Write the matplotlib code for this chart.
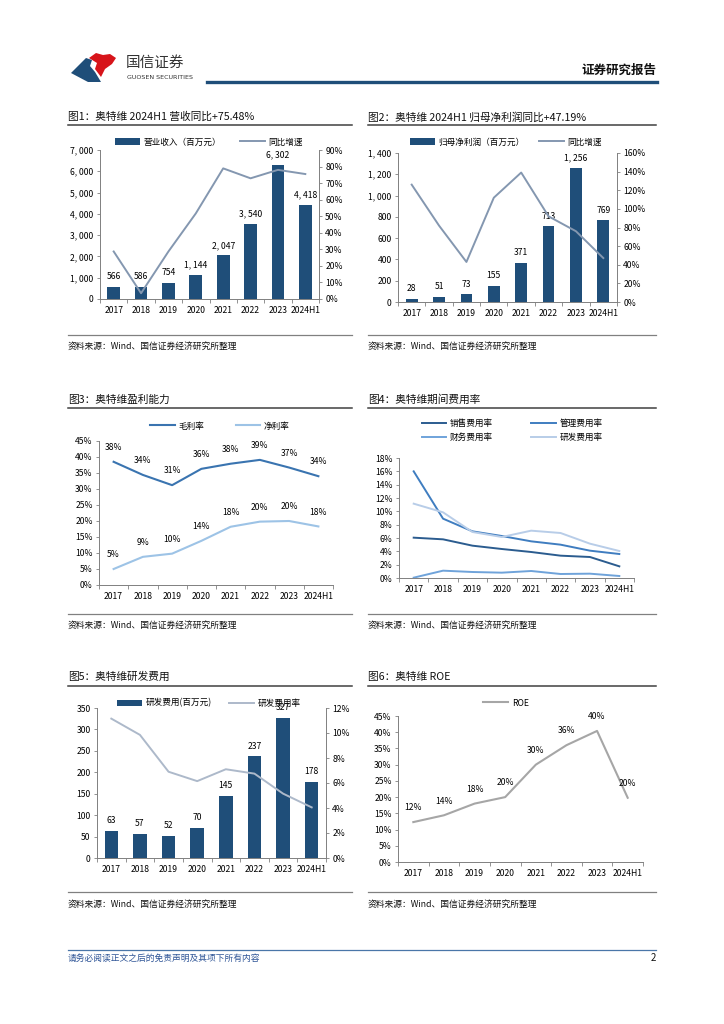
import numpy as np
import matplotlib
matplotlib.use("Agg")
import matplotlib.pyplot as plt
from matplotlib.lines import Line2D
from matplotlib.patches import Polygon

plt.rcParams['font.family'] = ['Noto Sans CJK SC', 'DejaVu Sans']
plt.rcParams['axes.unicode_minus'] = False

# ---- data ----
years = ['2017', '2018', '2019', '2020', '2021', '2022', '2023', '2024H1']

revenue = [566, 586, 754, 1144, 2047, 3540, 6302, 4418]
revenue_yoy = [28.7, 3.5, 28.7, 51.7, 78.9, 72.9, 78.0, 75.48]

net_profit = [28, 51, 73, 155, 371, 713, 1256, 769]
profit_yoy = [126.0, 82.0, 43.0, 112.0, 139.0, 92.0, 76.0, 47.19]

gross_margin = [38.5, 34.4, 31.2, 36.3, 37.9, 39.1, 36.7, 34.0]
net_margin = [5.0, 8.8, 9.8, 13.8, 18.2, 19.8, 20.0, 18.3]
gross_labels = ['38%', '34%', '31%', '36%', '38%', '39%', '37%', '34%']
net_labels = ['5%', '9%', '10%', '14%', '18%', '20%', '20%', '18%']

sell_rate = [6.05, 5.8, 4.85, 4.35, 3.9, 3.35, 3.15, 1.75]
admin_rate = [16.0, 8.9, 7.0, 6.3, 5.5, 5.0, 4.1, 3.6]
fin_rate = [0.05, 1.1, 0.9, 0.8, 1.05, 0.6, 0.65, 0.3]
rd_rate = [11.15, 9.85, 6.9, 6.15, 7.1, 6.75, 5.15, 4.05]

rd_expense = [63, 57, 52, 70, 145, 237, 327, 178]

roe = [12.3, 14.4, 18.0, 20.0, 30.0, 36.0, 40.4, 19.8]
roe_labels = ['12%', '14%', '18%', '20%', '30%', '36%', '40%', '20%']

# ---- page ----
W, H = 724, 1024
fig = plt.figure(figsize=(W / 100, H / 100), dpi=100)
fig.patch.set_facecolor('white')

BAR = '#1F4E79'
AXC = '#808080'
FS = 6.2
x = np.arange(len(years))


def fx(px):
    return px / W


def fy(py):
    return 1 - py / H


def ax_px(l, t, r, b):
    return fig.add_axes([l / W, 1 - b / H, (r - l) / W, (b - t) / H])


def hline(x1, x2, y, color, lw):
    fig.add_artist(Line2D([fx(x1), fx(x2)], [fy(y), fy(y)], color=color, lw=lw))


def thousands(v):
    return f"{v:,.0f}".replace(",", ", ")


def style(ax, ymax, step, fmt):
    ax.set_xlim(-0.5, len(years) - 0.5)
    ax.set_ylim(0, ymax)
    ticks = np.arange(0, ymax + step / 2, step)
    ax.set_yticks(ticks)
    ax.set_yticklabels([fmt(t) for t in ticks])
    ax.set_xticks(x)
    ax.set_xticklabels(years)
    ax.set_xticks(np.arange(-0.5, len(years)), minor=True)
    ax.tick_params(axis='x', which='major', length=0, labelsize=FS, pad=5)
    ax.tick_params(axis='x', which='minor', length=3, width=0.6, color=AXC, direction='out')
    ax.tick_params(axis='y', length=2.5, width=0.6, color=AXC, labelsize=FS, pad=2)
    for s in ['top', 'right']:
        ax.spines[s].set_visible(False)
    for s in ['left', 'bottom']:
        ax.spines[s].set_color(AXC)
        ax.spines[s].set_linewidth(0.7)
    ax.patch.set_alpha(0)


def style_right(ax, ymax, step, fmt):
    ax.set_ylim(0, ymax)
    ticks = np.arange(0, ymax + step / 2, step)
    ax.set_yticks(ticks)
    ax.set_yticklabels([fmt(t) for t in ticks])
    ax.tick_params(axis='y', length=2.5, width=0.6, color=AXC, labelsize=FS, pad=2)
    for s in ['top', 'left', 'bottom']:
        ax.spines[s].set_visible(False)
    ax.spines['right'].set_color(AXC)
    ax.spines['right'].set_linewidth(0.7)


def pct(t):
    return f"{t:.0f}%"


def legend(ax, handles, labels, cx, cy, ncol, colsp, hl=2.9):
    ax.legend(handles, labels, loc='center', bbox_to_anchor=(fx(cx), fy(cy)),
              bbox_transform=fig.transFigure, ncol=ncol, frameon=False,
              fontsize=FS, handlelength=hl, handletextpad=0.4,
              columnspacing=colsp, labelspacing=0.5, borderpad=0)


# header
blue_pts = [(71, 73), (86, 58), (92, 60), (90, 66), (95, 72), (101, 82), (88, 82)]
red_pts = [(89, 58), (96, 53), (103, 55), (110, 54), (116, 58), (112, 64),
           (105, 69), (101, 77), (95, 69), (97, 63)]
for pts, col in ((blue_pts, '#1F4E79'), (red_pts, '#D7141A')):
    fig.add_artist(Polygon([(fx(a), fy(b)) for a, b in pts], closed=True,
                           facecolor=col, edgecolor='none', transform=fig.transFigure))
fig.text(fx(126), fy(63), '国信证券', fontsize=10.5, color='#333333', va='center', ha='left')
fig.text(fx(127), fy(77.5), 'GUOSEN SECURITIES', fontsize=4.6, color='#333333',
         va='center', ha='left', family=['DejaVu Sans'])
fig.text(fx(656), fy(70), '证券研究报告', fontsize=9, fontweight='bold', color='#111111',
         va='center', ha='right')
hline(207, 657, 82, '#1F4E79', 2.4)

# panel titles, separators, sources
titles = [
    (68, 117, '图1：奥特维 2024H1 营收同比+75.48%'),
    (368, 117, '图2：奥特维 2024H1 归母净利润同比+47.19%'),
    (68, 400, '图3：奥特维盈利能力'),
    (368, 400, '图4：奥特维期间费用率'),
    (68, 677, '图5：奥特维研发费用'),
    (368, 677, '图6：奥特维 ROE'),
]
for tx, ty, s in titles:
    fig.text(fx(tx), fy(ty), s, fontsize=7.7, color='#111111', va='center', ha='left')
for ly in (125, 408, 686):
    hline(68, 352, ly, '#404040', 1.1)
    hline(368, 656, ly, '#404040', 1.1)
for ly, ty in ((335, 346), (614, 625), (892, 904)):
    hline(68, 352, ly, AXC, 0.9)
    hline(368, 656, ly, AXC, 0.9)
    fig.text(fx(68), fy(ty), '资料来源：Wind、国信证券经济研究所整理', fontsize=6.3,
             color='#111111', va='center', ha='left')
    fig.text(fx(368), fy(ty), '资料来源：Wind、国信证券经济研究所整理', fontsize=6.3,
             color='#111111', va='center', ha='left')

# footer
hline(68, 656, 950, '#4A76A8', 0.9)
fig.text(fx(68), fy(958), '请务必阅读正文之后的免责声明及其项下所有内容', fontsize=6.3,
         color='#2F5597', style='italic', va='center', ha='left')
fig.text(fx(656), fy(958), '2', fontsize=7, color='#111111', va='center', ha='right')

# ---- chart 1 ----
ax1 = ax_px(100, 150, 319, 299)
style(ax1, 7000, 1000, thousands)
b1 = ax1.bar(x, revenue, width=0.47, color=BAR, zorder=2)
for xi, v in zip(x, revenue):
    ax1.annotate(thousands(v), (xi, v), xytext=(0, 4), textcoords='offset points',
                 ha='center', va='bottom', fontsize=FS)
ax1r = ax1.twinx()
style_right(ax1r, 90, 10, pct)
l1, = ax1r.plot(x, revenue_yoy, color='#8497B0', lw=1.4)
legend(ax1r, [b1, l1], ['营业收入（百万元）', '同比增速'], 209, 142, 2, 2.2)

# ---- chart 2 ----
ax2 = ax_px(398, 153, 617, 302)
style(ax2, 1400, 200, thousands)
b2 = ax2.bar(x, net_profit, width=0.43, color=BAR, zorder=2)
for xi, v in zip(x, net_profit):
    ax2.annotate(thousands(v), (xi, v), xytext=(0, 4), textcoords='offset points',
                 ha='center', va='bottom', fontsize=FS)
ax2r = ax2.twinx()
style_right(ax2r, 160, 20, pct)
l2, = ax2r.plot(x, profit_yoy, color='#8497B0', lw=1.4)
legend(ax2r, [b2, l2], ['归母净利润（百万元）', '同比增速'], 506, 142, 2, 1.6)

# ---- chart 3 ----
ax3 = ax_px(99, 441, 333, 585)
style(ax3, 45, 5, pct)
g3, = ax3.plot(x, gross_margin, color='#3A74B0', lw=1.5)
n3, = ax3.plot(x, net_margin, color='#9DC3E6', lw=1.5)
for xi, v, s in zip(x, gross_margin, gross_labels):
    ax3.annotate(s, (xi, v), xytext=(0, 7), textcoords='offset points',
                 ha='center', va='bottom', fontsize=FS)
for xi, v, s in zip(x, net_margin, net_labels):
    ax3.annotate(s, (xi, v), xytext=(0, 7), textcoords='offset points',
                 ha='center', va='bottom', fontsize=FS)
legend(ax3, [g3, n3], ['毛利率', '净利率'], 220, 426, 2, 3.6)

# ---- chart 4 ----
ax4 = ax_px(399, 458, 634, 578)
style(ax4, 18, 2, pct)
s4, = ax4.plot(x, sell_rate, color='#2B5C8F', lw=1.4)
a4, = ax4.plot(x, admin_rate, color='#3F7DC0', lw=1.4)
f4, = ax4.plot(x, fin_rate, color='#6FA3DA', lw=1.4)
r4, = ax4.plot(x, rd_rate, color='#B8CDE8', lw=1.4)
legend(ax4, [s4, f4, a4, r4], ['销售费用率', '财务费用率', '管理费用率', '研发费用率'],
       512, 430.5, 2, 4.4)

# ---- chart 5 ----
ax5 = ax_px(97, 708, 326, 858)
style(ax5, 350, 50, lambda t: f"{t:.0f}")
b5 = ax5.bar(x, rd_expense, width=0.47, color=BAR, zorder=2)
for xi, v in zip(x, rd_expense):
    ax5.annotate(f"{v}", (xi, v), xytext=(0, 4), textcoords='offset points',
                 ha='center', va='bottom', fontsize=FS)
ax5r = ax5.twinx()
style_right(ax5r, 12, 2, pct)
l5, = ax5r.plot(x, rd_rate, color='#ADB9CA', lw=1.4)
legend(ax5r, [b5, l5], ['研发费用(百万元)', '研发费用率'], 209, 703, 2, 2.0)

# ---- chart 6 ----
ax6 = ax_px(398, 716, 643, 862)
style(ax6, 45, 5, pct)
r6, = ax6.plot(x, roe, color='#A6A6A6', lw=1.5)
for xi, v, s in zip(x, roe, roe_labels):
    ax6.annotate(s, (xi, v), xytext=(0, 7), textcoords='offset points',
                 ha='center', va='bottom', fontsize=FS)
legend(ax6, [r6], ['ROE'], 506, 703, 1, 1.0)

fig.savefig('out.png', dpi=100, facecolor='white')
